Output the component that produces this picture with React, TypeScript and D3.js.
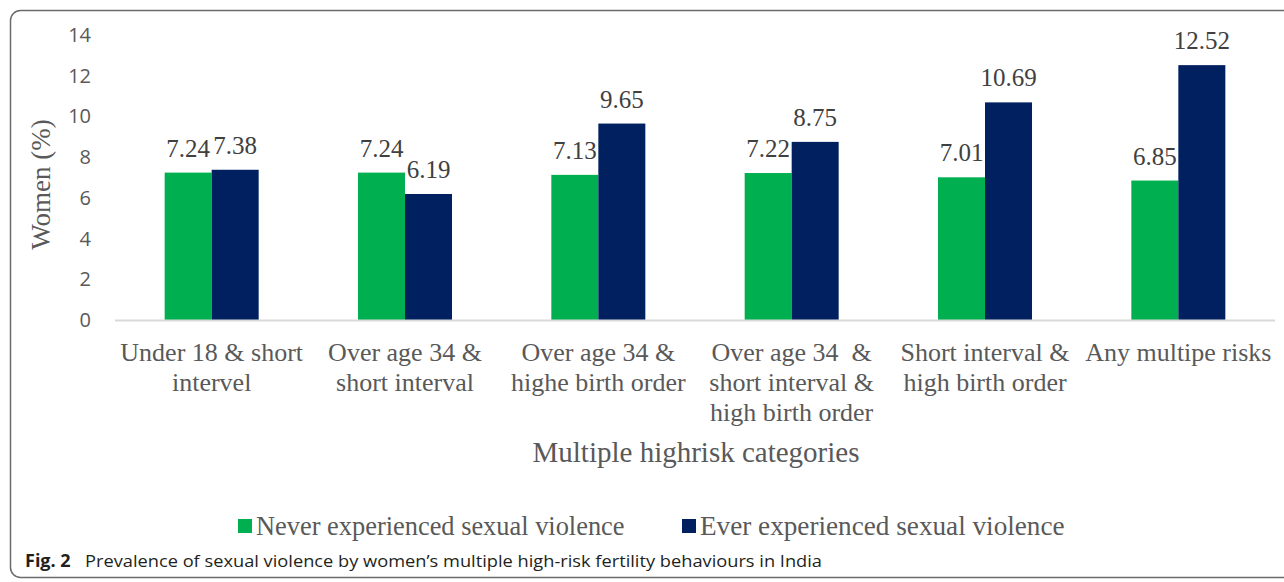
import { useEffect, useRef } from 'react';
import * as d3 from 'd3';

// Chart data
const categories = [
  ['Under 18 & short', 'intervel'],
  ['Over age 34 &', 'short interval'],
  ['Over age 34 &', 'highe birth order'],
  ['Over age 34  &', 'short interval &', 'high birth order'],
  ['Short interval &', 'high birth order'],
  ['Any multipe risks'],
];
const seriesNames = ['Never experienced sexual violence', 'Ever experienced sexual violence'];
const neverValues = [7.24, 7.24, 7.13, 7.22, 7.01, 6.85];
const everValues = [7.38, 6.19, 9.65, 8.75, 10.69, 12.52];
const yTicks = [0, 2, 4, 6, 8, 10, 12, 14];
const colors = ['#00B050', '#002060'];

const W = 1284;
const H = 582;
const serif = '"Liberation Serif", "Times New Roman", serif';
const sans = '"Open Sans", "Noto Sans", sans-serif';

export default function App() {
  const svgRef = useRef<SVGSVGElement>(null);

  useEffect(() => {
    if (!svgRef.current) return;
    const svg = d3.select(svgRef.current);
    svg.selectAll('*').remove();

    // frame
    svg.append('rect')
      .attr('x', 10.5).attr('y', 10.5)
      .attr('width', 1300).attr('height', 567)
      .attr('rx', 10).attr('ry', 10)
      .attr('fill', 'none')
      .attr('stroke', '#6b6b6b')
      .attr('stroke-width', 1.5);

    const plotLeft = 115;
    const plotRight = 1275;
    const plotTop = 35;
    const plotBottom = 320;

    const x0 = d3.scaleBand<number>()
      .domain(categories.map((_, i) => i))
      .range([plotLeft, plotRight])
      .paddingInner(0)
      .paddingOuter(0);
    const groupW = 94;
    const x1 = d3.scaleBand<number>()
      .domain([0, 1])
      .range([0, groupW]);

    const y = d3.scaleLinear().domain([0, 14]).range([plotBottom, plotTop]);

    // y ticks
    svg.append('g')
      .selectAll('text')
      .data(yTicks)
      .enter()
      .append('text')
      .attr('x', 91)
      .attr('y', d => y(d))
      .attr('dy', '0.35em')
      .attr('text-anchor', 'end')
      .attr('font-family', sans)
      .attr('font-size', 20)
      .attr('fill', '#595959')
      .text(d => d);

    // y title
    svg.append('text')
      .attr('transform', `translate(50,${(plotTop + plotBottom) / 2 + 7}) rotate(-90)`)
      .attr('text-anchor', 'middle')
      .attr('font-family', serif)
      .attr('font-size', 27)
      .attr('fill', '#595959')
      .text('Women (%)');

    // bars
    const series = [neverValues, everValues];
    const g = svg.append('g');
    series.forEach((vals, s) => {
      vals.forEach((v, i) => {
        const bx = x0(i)! + x0.bandwidth() / 2 - groupW / 2 + x1(s)!;
        g.append('rect')
          .attr('x', bx)
          .attr('y', y(v))
          .attr('width', x1.bandwidth())
          .attr('height', y(0) - y(v))
          .attr('fill', colors[s]);
        g.append('text')
          .attr('x', bx + x1.bandwidth() / 2)
          .attr('y', y(v) - 16)
          .attr('text-anchor', 'middle')
          .attr('font-family', serif)
          .attr('font-size', 25)
          .attr('fill', '#404040')
          .text(v.toFixed(2));
      });
    });

    // x axis line
    svg.append('line')
      .attr('x1', plotLeft).attr('x2', plotRight)
      .attr('y1', plotBottom + 0.5).attr('y2', plotBottom + 0.5)
      .attr('stroke', '#d9d9d9')
      .attr('stroke-width', 2);

    // category labels
    categories.forEach((lines, i) => {
      const t = svg.append('text')
        .attr('text-anchor', 'middle')
        .attr('font-family', serif)
        .attr('font-size', 26)
        .attr('fill', '#595959');
      lines.forEach((ln, k) => {
        t.append('tspan')
          .attr('x', x0(i)! + x0.bandwidth() / 2)
          .attr('y', 361 + k * 30)
          .attr('xml:space', 'preserve')
          .text(ln);
      });
    });

    // x title
    svg.append('text')
      .attr('x', 696)
      .attr('y', 462)
      .attr('text-anchor', 'middle')
      .attr('font-family', serif)
      .attr('font-size', 29)
      .attr('fill', '#595959')
      .text('Multiple highrisk categories');

    // legend
    const legendX = [238, 682];
    seriesNames.forEach((name, s) => {
      svg.append('rect')
        .attr('x', legendX[s]).attr('y', 519)
        .attr('width', 14).attr('height', 14)
        .attr('fill', colors[s]);
      svg.append('text')
        .attr('x', legendX[s] + 18)
        .attr('y', 535)
        .attr('font-family', serif)
        .attr('font-size', s === 0 ? 26.4 : 27.2)
        .attr('fill', '#595959')
        .text(name);
    });

    // caption
    const cap = svg.append('text')
      .attr('x', 25)
      .attr('y', 567)
      .attr('font-family', sans)
      .attr('font-size', 18)
      .attr('fill', '#231f20');
    cap.append('tspan').attr('font-weight', 'bold').text('Fig. 2');
    cap.append('tspan')
      .attr('x', 85)
      .attr('font-size', 17)
      .attr('textLength', 737)
      .attr('lengthAdjust', 'spacingAndGlyphs')
      .text('Prevalence of sexual violence by women\u2019s multiple high-risk fertility behaviours in India');
  }, []);

  return (
    <svg
      ref={svgRef}
      width={W}
      height={H}
      style={{ position: 'absolute', left: 0, top: 0, background: '#fff' }}
    />
  );
}
